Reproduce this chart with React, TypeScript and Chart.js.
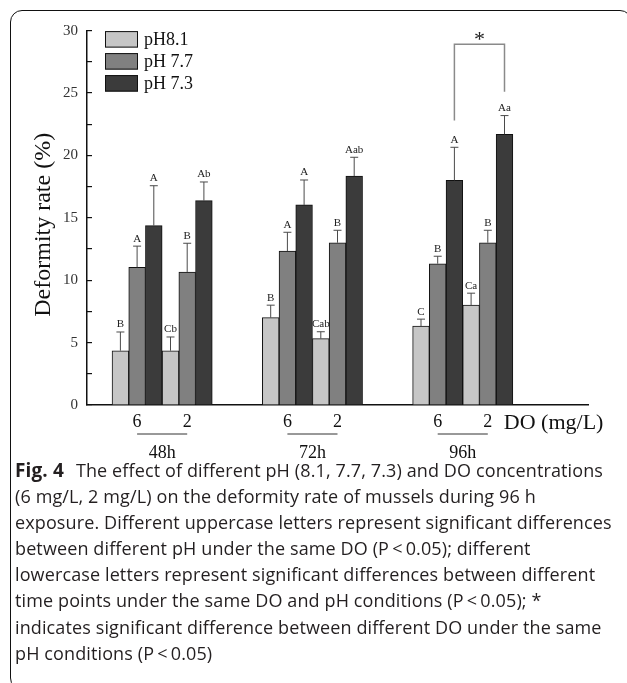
import React, { useEffect, useRef } from 'react';
import { Chart, registerables } from 'chart.js';

Chart.register(...registerables);

// ---- data ----
const xSlots = ['', '6', '2', '', '6', '2', '', '6', '2', '', ''];
const barSlots = [1, 2, 4, 5, 7, 8];
const timeLabels = ['48h', '72h', '96h'];
const seriesNames = ['pH8.1', 'pH 7.7', 'pH 7.3'];
const ph81 = [4.35, 4.35, 7.0, 5.32, 6.33, 8.01];
const ph77 = [11.03, 10.66, 12.34, 13.0, 11.32, 13.0];
const ph73 = [14.37, 16.37, 16.03, 18.35, 18.0, 21.69];
const sd81 = [1.5, 1.1, 1.0, 0.55, 0.55, 0.95];
const sd77 = [1.7, 2.3, 1.5, 1.0, 0.6, 1.0];
const sd73 = [3.2, 1.5, 2.0, 1.5, 2.65, 1.5];
const letters81 = ['B', 'Cb', 'B', 'Cab', 'C', 'Ca'];
const letters77 = ['A', 'B', 'A', 'B', 'B', 'B'];
const letters73 = ['A', 'Ab', 'A', 'Aab', 'A', 'Aa'];
const sigSlots = [7, 8];
const sigTop = 28.9;
const sigLegBottoms = [22.8, 25.1];
const yMin = 0;
const yMax = 30;
const yStep = 2.5;
const xAxisTitle = 'DO (mg/L)';
const yAxisTitle = 'Deformity rate (%)';

const colors = ['#c6c6c6', '#808080', '#3b3b3b'];
const SERIF = '"Liberation Serif", "Times New Roman", serif';

const seriesValues = [ph81, ph77, ph73];
const seriesSd = [sd81, sd77, sd73];
const seriesLetters = [letters81, letters77, letters73];

function toSlots(vals: number[]): (number | null)[] {
  const out: (number | null)[] = xSlots.map(() => null);
  barSlots.forEach((s, i) => { out[s] = vals[i]; });
  return out;
}

const overlayPlugin = {
  id: 'overlay',
  afterDatasetsDraw(chart: any) {
    const ctx = chart.ctx;
    const xs = chart.scales.x;
    const ys = chart.scales.y;
    const area = chart.chartArea;
    ctx.save();
    // error bars + letters
    seriesValues.forEach((vals, di) => {
      const meta = chart.getDatasetMeta(di);
      barSlots.forEach((slot, k) => {
        const el = meta.data[slot];
        if (!el) return;
        const x = el.x;
        const yTop = ys.getPixelForValue(vals[k]);
        const yErr = ys.getPixelForValue(vals[k] + seriesSd[di][k]);
        ctx.strokeStyle = '#4a4a4a';
        ctx.lineWidth = 1;
        ctx.beginPath();
        ctx.moveTo(x, yTop);
        ctx.lineTo(x, yErr);
        ctx.moveTo(x - 4, yErr);
        ctx.lineTo(x + 4, yErr);
        ctx.stroke();
        ctx.fillStyle = '#222';
        ctx.font = '11px ' + SERIF;
        ctx.textAlign = 'center';
        ctx.textBaseline = 'bottom';
        ctx.fillText(seriesLetters[di][k], x, yErr - 2);
      });
    });
    // significance bracket
    const m = chart.getDatasetMeta(2);
    const xl = m.data[sigSlots[0]].x;
    const xr = m.data[sigSlots[1]].x;
    const yt = ys.getPixelForValue(sigTop);
    ctx.strokeStyle = '#8a8a8a';
    ctx.lineWidth = 1.5;
    ctx.beginPath();
    ctx.moveTo(xl, ys.getPixelForValue(sigLegBottoms[0]));
    ctx.lineTo(xl, yt);
    ctx.lineTo(xr, yt);
    ctx.lineTo(xr, ys.getPixelForValue(sigLegBottoms[1]));
    ctx.stroke();
    ctx.fillStyle = '#222';
    ctx.font = '22px ' + SERIF;
    ctx.textAlign = 'center';
    ctx.textBaseline = 'alphabetic';
    ctx.fillText('*', (xl + xr) / 2, yt + 2);

    // group lines and labels
    ctx.strokeStyle = '#333';
    ctx.lineWidth = 1;
    timeLabels.forEach((t, g) => {
      const x1 = xs.getPixelForValue(barSlots[2 * g]);
      const x2 = xs.getPixelForValue(barSlots[2 * g + 1]);
      const yl = area.bottom + 29;
      ctx.beginPath();
      ctx.moveTo(x1, yl);
      ctx.lineTo(x2, yl);
      ctx.stroke();
      ctx.fillStyle = '#111';
      ctx.font = '18px ' + SERIF;
      ctx.textAlign = 'center';
      ctx.textBaseline = 'middle';
      ctx.fillText(t, (x1 + x2) / 2, area.bottom + 48);
    });
    // x axis title
    ctx.font = '22px ' + SERIF;
    ctx.textAlign = 'left';
    ctx.textBaseline = 'middle';
    ctx.fillStyle = '#111';
    ctx.fillText(xAxisTitle, xs.getPixelForValue(barSlots[5]) + 16, area.bottom + 18);

    // y axis title
    ctx.save();
    ctx.translate(44, (area.top + area.bottom) / 2 + 7);
    ctx.rotate(-Math.PI / 2);
    ctx.font = '24px ' + SERIF;
    ctx.textAlign = 'center';
    ctx.textBaseline = 'middle';
    ctx.fillText(yAxisTitle, 0, 0);
    ctx.restore();

    // legend
    seriesNames.forEach((name, i) => {
      const bx = area.left + 18;
      const by = area.top + 0.5 + i * 22;
      ctx.fillStyle = colors[i];
      ctx.fillRect(bx, by, 33, 16.5);
      ctx.strokeStyle = '#111';
      ctx.lineWidth = 1;
      ctx.strokeRect(bx + 0.5, by + 0.5, 32, 15.5);
      ctx.fillStyle = '#111';
      ctx.font = '18px ' + SERIF;
      ctx.textAlign = 'left';
      ctx.textBaseline = 'middle';
      ctx.fillText(name, bx + 39, by + 9);
    });
    ctx.restore();
  },
};

const captionLines = [
  'The effect of different pH (8.1, 7.7, 7.3) and DO concentrations',
  '(6 mg/L, 2 mg/L) on the deformity rate of mussels during 96 h',
  'exposure. Different uppercase letters represent significant differences',
  'between different pH under the same DO (P\u2009<\u20090.05); different',
  'lowercase letters represent significant differences between different',
  'time points under the same DO and pH conditions (P\u2009<\u20090.05); *',
  'indicates significant difference between different DO under the same',
  'pH conditions (P\u2009<\u20090.05)',
];

export default function App() {
  const ref = useRef<HTMLCanvasElement | null>(null);
  useEffect(() => {
    if (!ref.current) return;
    const chart = new Chart(ref.current, {
      type: 'bar',
      data: {
        labels: xSlots,
        datasets: seriesNames.map((n, i) => ({
          label: n,
          data: toSlots(seriesValues[i]),
          backgroundColor: colors[i],
          borderColor: '#111',
          borderWidth: 1,
          categoryPercentage: 1,
          barPercentage: 1,
        })),
      },
      options: {
        responsive: false,
        animation: false,
        layout: { padding: { top: 30.6, right: 39, left: 0, bottom: 0 } },
        plugins: { legend: { display: false }, tooltip: { enabled: false } },
        scales: {
          x: {
            type: 'category',
            offset: false,
            grid: { display: false, drawTicks: false },
            border: { display: true, color: '#111', width: 1.5 },
            ticks: {
              autoSkip: false,
              maxRotation: 0,
              padding: 6,
              color: '#111',
              font: { family: SERIF, size: 18 },
            },
            afterFit: (s: any) => { s.height = 65; },
          },
          y: {
            min: yMin,
            max: yMax,
            grid: { display: true, drawOnChartArea: false, drawTicks: true, tickLength: -5, color: '#111', lineWidth: 1.2 },
            border: { display: true, color: '#111', width: 1.5 },
            ticks: {
              stepSize: yStep,
              padding: 14,
              color: '#333',
              font: { family: SERIF, size: 15 },
              callback: (v: any) => (Number(v) % 5 === 0 ? String(v) : ''),
            },
            afterFit: (s: any) => { s.width = 87; },
          },
        },
      },
      plugins: [overlayPlugin],
    });
    return () => chart.destroy();
  }, []);

  return (
    <div style={{ position: 'absolute', left: 0, top: 0, width: 627, height: 683, overflow: 'hidden', background: '#fff' }}>
      <div style={{ position: 'absolute', left: 10, top: 10, width: 622, height: 680, border: '1.5px solid #111', borderRadius: 12, boxSizing: 'border-box' }} />
      <canvas ref={ref} width={627} height={470} style={{ position: 'absolute', left: 0, top: 0 }} />
      <div style={{ position: 'absolute', left: 15, top: 457, fontFamily: '"Open Sans", "Noto Sans", sans-serif', fontSize: 18, lineHeight: '26.1px', color: '#231f20', whiteSpace: 'nowrap', letterSpacing: '0.12px' }}>
        {captionLines.map((l, i) => (
          <div key={i}>
            {i === 0 ? <b style={{ marginRight: 12, fontSize: 19 }}>Fig. 4</b> : null}
            {l}
          </div>
        ))}
      </div>
    </div>
  );
}
